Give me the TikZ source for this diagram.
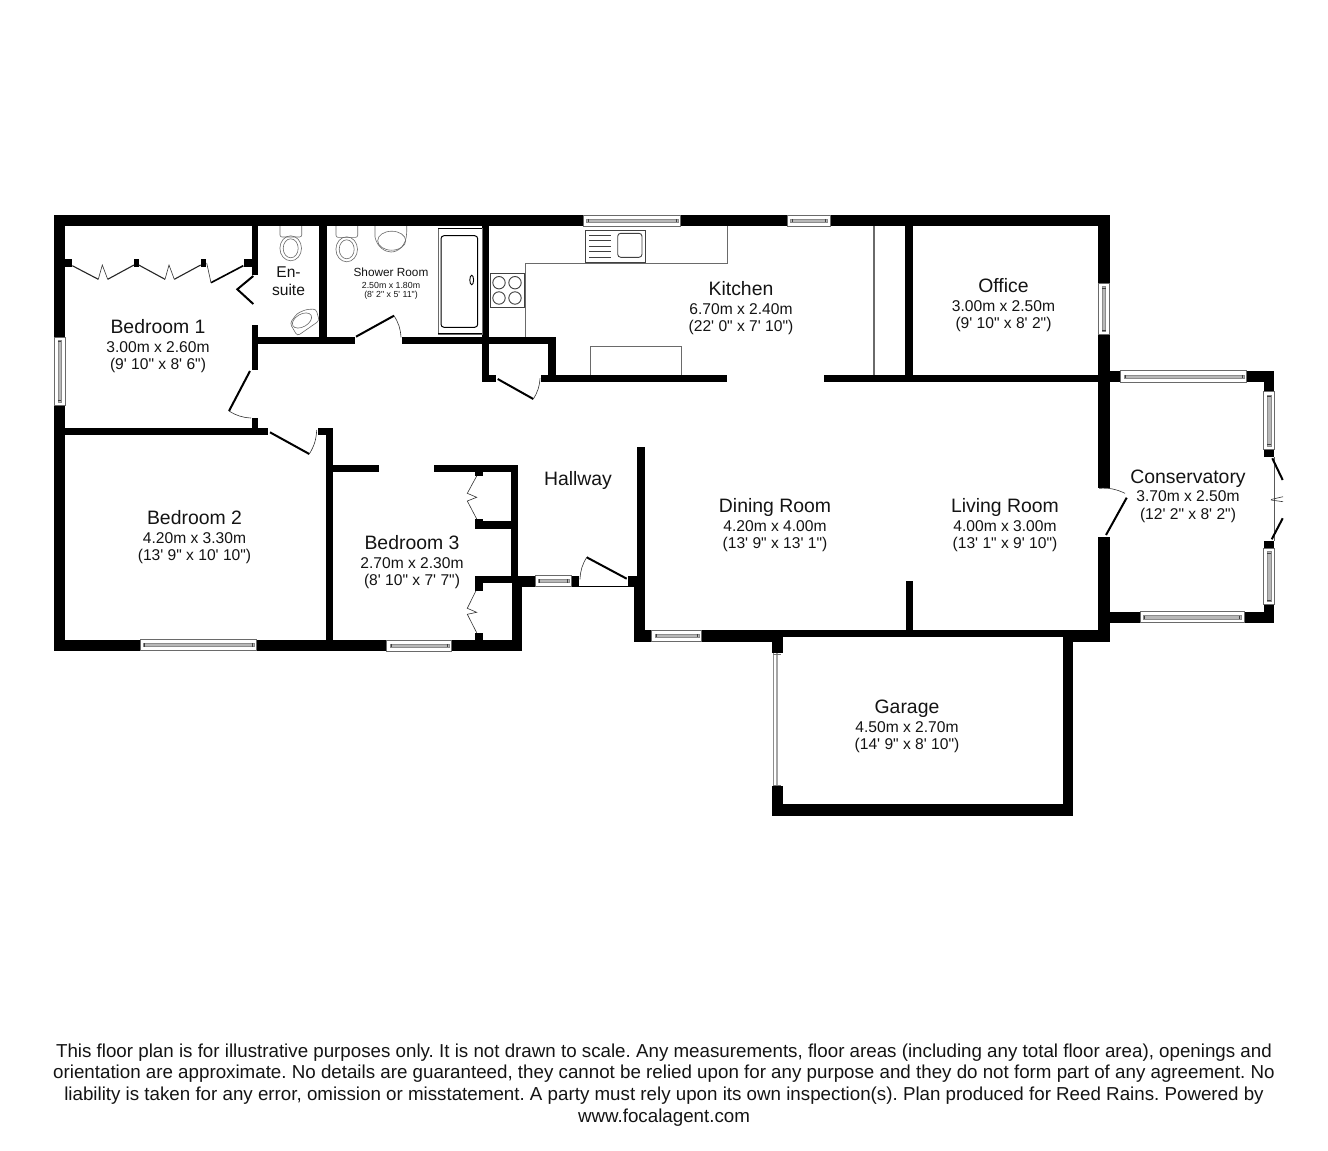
\documentclass[tikz,border=0pt]{standalone}
\usepackage{fontspec}
\newfontfamily\plainf{Liberation Sans}
\definecolor{wallc}{HTML}{000000}
\definecolor{fixc}{HTML}{6A6A6A}
\definecolor{txtc}{HTML}{141414}
\newcommand{\wallr}[4]{\fill[wallc] (#1,#2) rectangle (#3,#4);}
\newcommand{\hwin}[4]{%
  \draw[winframe] (#1,#2) rectangle (#3,#4);
  \draw[winbar] ({#1+3},{(#2+#4)/2-1.7}) rectangle ({#3-3},{(#2+#4)/2+1.7});
  \draw[wintick] ({#1+4.5},{(#2+#4)/2-1.7}) -- ({#1+4.5},{(#2+#4)/2+1.7});
  \draw[wintick] ({#3-4.5},{(#2+#4)/2-1.7}) -- ({#3-4.5},{(#2+#4)/2+1.7});}
\newcommand{\vwin}[4]{%
  \draw[winframe] (#1,#2) rectangle (#3,#4);
  \draw[winbar] ({(#1+#3)/2-1.7},{#2+3}) rectangle ({(#1+#3)/2+1.7},{#4-3});
  \draw[wintick] ({(#1+#3)/2-1.7},{#2+4.5}) -- ({(#1+#3)/2+1.7},{#2+4.5});
  \draw[wintick] ({(#1+#3)/2-1.7},{#4-4.5}) -- ({(#1+#3)/2+1.7},{#4-4.5});}
\newcommand{\roomlabel}[6]{%
  \node[namefont] (#1a) at (#2,#3+0.4) {#4};
  \node[dimfont] (#1b) at (#2,#3+19) {#5};
  \node[dimfont] (#1c) at (#2,#3+36.4) {#6};}
\tikzset{
  x=1pt,y=-1pt,
  winframe/.style={draw=fixc,line width=0.7pt,fill=white},
  winbar/.style={draw=black!45,line width=0.4pt,fill=black!28},
  wintick/.style={draw=black!75,line width=0.5pt},
  fixture/.style={draw=fixc,line width=1.1pt},
  fixthin/.style={draw=fixc,line width=0.6pt},
  fixdark/.style={draw=black!75,line width=0.9pt},
  doorleaf/.style={draw=black,line width=2pt},
  doorswing/.style={draw=black!80,line width=0.6pt},
  fold/.style={draw=black!85,line width=1.1pt,line join=miter},
  foldthin/.style={draw=black!80,line width=0.6pt},
  namefont/.style={anchor=base,inner sep=0pt,text=txtc,font=\plainf\fontsize{19.4}{22}\selectfont},
  dimfont/.style={anchor=base,inner sep=0pt,text=txtc,font=\plainf\fontsize{15.6}{18}\selectfont},
  tinyname/.style={anchor=base,inner sep=0pt,text=txtc,font=\plainf\fontsize{11.8}{14}\selectfont},
  tinydim/.style={anchor=base,inner sep=0pt,text=txtc,font=\plainf\fontsize{8.8}{10}\selectfont},
}
\begin{document}
\begin{tikzpicture}
\useasboundingbox (0,0) rectangle (1328,1151);
\fill[white] (0,0) rectangle (1328,1151);

% --- outer shell
\wallr{54}{215}{1110}{226}
\wallr{54}{215}{65}{651}
\wallr{54}{640}{522}{651}
\wallr{1098.3}{215}{1109.5}{488.3}
\wallr{1098.3}{536.7}{1109.5}{641.7}
% bedroom 1 partitions
\wallr{65}{428}{268}{435}
\wallr{252}{226}{258}{275}
\wallr{252}{325}{258}{370}
\wallr{252}{418}{258}{435}
\wallr{65}{259}{72}{267}
\wallr{134}{259}{139}{267}
\wallr{201}{259}{206}{267}
\wallr{244}{259}{252}{267}
% en-suite, shower
\wallr{319.3}{226}{326.7}{344}
\wallr{258}{337}{355}{344}
\wallr{402}{337}{556}{344}
\wallr{482}{226}{489}{382}
% cupboard by kitchen
\wallr{548}{337}{556}{382}
\wallr{482}{375}{496}{382}
\wallr{541}{375}{727}{382.3}
% kitchen / office
\wallr{905.3}{226}{912.7}{375}
\wallr{824.3}{375}{1110}{382.3}
% bedroom 2/3
\wallr{318}{428}{333}{435}
\wallr{326}{428}{333}{640}
\wallr{333}{465}{379}{472.3}
\wallr{434}{465}{518.3}{472.3}
\wallr{511}{465}{518.3}{583}
\wallr{475.3}{521}{511}{528.7}
\wallr{475.3}{472}{482.7}{476}
\wallr{475.3}{519.3}{482.7}{528}
\wallr{475.3}{576}{535}{583.3}
\wallr{475.3}{576}{482.7}{590.7}
\wallr{475.3}{632.7}{482.7}{640}
\wallr{511.7}{576}{521.7}{650.5}
% entrance
\wallr{518}{576}{535}{587}
\wallr{571.7}{576}{579.3}{587}
\wallr{628.3}{576}{645}{587}
\wallr{637.3}{447.3}{645}{641}
\wallr{634}{576}{645}{641}
\draw[draw=black,line width=0.9pt] (579.3,586.3) -- (628.3,586.3);
% dining / living bottom
\wallr{634}{630}{1110}{637.3}
\wallr{634}{637}{783.3}{641.7}
\wallr{1062.7}{637}{1110}{641.7}
\wallr{905.7}{581}{912.7}{630}
% garage
\wallr{772.3}{637}{783.3}{653.3}
\wallr{772.3}{785.7}{783.3}{815.7}
\wallr{772.3}{804.3}{1073.3}{815.7}
\wallr{1062.7}{637}{1073.3}{815.7}
% conservatory
\wallr{1109}{370.7}{1120.7}{382.3}
\wallr{1246.7}{370.7}{1274.3}{382.3}
\wallr{1263.7}{370.7}{1274.3}{391.7}
\wallr{1263.7}{449}{1274.3}{457}
\wallr{1263.7}{541}{1274.3}{548.3}
\wallr{1263.7}{604.3}{1274.3}{622.7}
\wallr{1109}{611.7}{1140}{622.7}
\wallr{1244}{611.7}{1274.3}{622.7}

% --- windows
\vwin{54}{337}{65}{405}
\hwin{583.3}{215}{680.7}{226}
\hwin{787.3}{215}{830}{226}
\vwin{1098.3}{283.3}{1109.5}{334.3}
\hwin{1120.7}{370.7}{1246.7}{382.3}
\vwin{1263.7}{391.7}{1274.3}{449}
\vwin{1263.7}{548.3}{1274.3}{604.3}
\hwin{1140}{611.7}{1244}{622.7}
\hwin{140}{639}{256.7}{650.7}
\hwin{386.7}{640}{451.7}{651}
\hwin{535}{575}{571.7}{586.7}
\hwin{651.7}{630}{701.7}{641}
% garage door: open side, thin rail
\fill[white] (772.3,653.3) rectangle (783.3,785.7);
\draw[draw=black!45,line width=0.6pt] (773,653.3) -- (773,785.7);
\fill[black!35] (775.7,653.3) rectangle (778.2,785.7);
\draw[draw=black!55,line width=0.5pt] (773,653.8) -- (780.5,653.8);
\draw[draw=black!55,line width=0.5pt] (773,785.2) -- (780.5,785.2);

% --- doors
\draw[doorleaf] (253.3,276) -- (237.3,289.3) -- (253.3,304);
\draw[doorleaf] (250,371) -- (229,411);
\draw[doorswing] (229,411) to[bend right=14] (251,418);
\draw[doorleaf] (270,432.3) -- (309.3,454);
\draw[doorswing] (309.3,454) to[bend right=14] (316.7,430);
\draw[doorleaf] (356,336.7) -- (394,315.7);
\draw[doorswing] (394,315.7) to[bend left=14] (401,337.3);
\draw[doorleaf] (497.7,379) -- (533.3,399);
\draw[doorswing] (533.3,399) to[bend right=14] (540,378.3);
\draw[doorleaf] (626.7,578.7) -- (586.7,557.3);
\draw[doorswing] (586.7,557.3) to[bend right=14] (580,579.3);
\draw[doorleaf] (1126.7,497.7) -- (1106,535);
\draw[doorswing] (1099,488.3) to[bend left=14] (1125,493.3);
% conservatory french door
\draw[draw=black!65,line width=0.9pt] (1274.2,457) -- (1274.2,541);
\draw[doorleaf] (1272.3,458.3) -- (1282.7,480);
\draw[doorleaf] (1271.7,539.3) -- (1282.7,518.3);
\draw[foldthin] (1271,499.5) -- (1283,496.7);
\draw[foldthin] (1271,500) -- (1283,501.7);

% --- folding wardrobe doors
\draw[fold] (72.3,265.7) -- (98.3,279.3);
\draw[foldthin] (98.3,279.3) -- (102.3,265) -- (107.7,279.3);
\draw[fold] (107.7,279.3) -- (134,265);
\draw[fold] (138.7,265) -- (165,279.3);
\draw[foldthin] (165,279.3) -- (169,265) -- (174.3,279.3);
\draw[fold] (174.3,279.3) -- (200.7,265);
\draw[foldthin] (206.7,263) -- (211,282.7);
\draw[doorleaf,line width=1.6pt] (211,282.7) -- (243.3,265.7);
\draw[foldthin] (476.7,476) -- (467.3,493.3) -- (476.7,497.3) -- (467.3,501) -- (476.7,519);
\draw[foldthin] (476,590.7) -- (467.3,608.3) -- (476.7,612.3) -- (467.3,614.3) -- (476.7,632.7);

% --- en-suite fixtures
\draw[fixthin,rounded corners=2pt] (280,226) -- (280,237) -- (301.7,237) -- (301.7,226);
\draw[fixthin] (290.7,248.3) ellipse [x radius=10.8,y radius=12.5];
\draw[fixthin] (290.7,248.3) ellipse [x radius=7.5,y radius=9.5];
\draw[fixthin,rounded corners=3pt] (290,323.3) -- (297,313.5) -- (306,309.5) -- (316,309) -- (319.3,320.7) -- (297.3,336) -- cycle;
\draw[fixthin,rotate around={30:(302,320.5)}] (302,320.5) ellipse [x radius=10.5,y radius=6.3];

% --- shower room fixtures
\draw[fixthin,rounded corners=2pt] (336,226) -- (336,237.3) -- (357.7,237.3) -- (357.7,226);
\draw[fixthin] (346.7,249.3) ellipse [x radius=10.8,y radius=12.5];
\draw[fixthin] (346.7,249.3) ellipse [x radius=7.5,y radius=9.5];
\draw[fixthin] (375,226) -- (375,237) .. controls (377,247) and (385,252) .. (391,252) .. controls (398,252) and (406.7,246) .. (406.7,232) -- (406.7,226);
\draw[fixthin] (391.7,240.7) ellipse [x radius=14,y radius=9.5];
\draw[fixture,line width=0.7pt] (438.3,228) rectangle (482,334);
\draw[draw=black,line width=1pt] (438.3,228.5) -- (482,228.5);
\draw[draw=black,line width=1pt] (438.3,333.5) -- (482,333.5);
\draw[draw=black,line width=1pt,rounded corners=3pt] (441,235.7) rectangle (477.7,327.3);
\draw[draw=black,line width=0.9pt] (471.7,280) ellipse [x radius=1.9,y radius=4.8];

% --- kitchen fixtures
\draw[fixture] (727.5,226) -- (727.5,263.3) -- (525.7,263.3) -- (525.7,337);
\draw[fixdark] (585.7,230.3) rectangle (645.7,262);
\foreach \ky in {235,240.7,246,251.7,257.3} \draw[fixdark] (589.3,\ky) -- (611.3,\ky);
\draw[fixdark,rounded corners=3pt] (617.7,233.3) rectangle (642,257.3);
\draw[fixdark] (490.3,273.3) rectangle (524,307.3);
\foreach \kx in {499,515} \foreach \ky in {282.7,298} \draw[fixdark] (\kx,\ky) circle [radius=6.2];
\draw[fixture] (590.7,375) -- (590.7,346.7) -- (681.7,346.7) -- (681.7,375);
\draw[fixture] (874,226) -- (874,375);

% --- labels
\roomlabel{bedone}{158}{333.4}{Bedroom 1}{3.00m x 2.60m}{(9' 10" x 8' 6")}
\roomlabel{bedtwo}{194.5}{524.4}{Bedroom 2}{4.20m x 3.30m}{(13' 9" x 10' 10")}
\roomlabel{bedthree}{412}{549.3}{Bedroom 3}{2.70m x 2.30m}{(8' 10" x 7' 7")}
\roomlabel{kitchen}{741}{295.4}{Kitchen}{6.70m x 2.40m}{(22' 0" x 7' 10")}
\roomlabel{office}{1003.5}{292.4}{Office}{3.00m x 2.50m}{(9' 10" x 8' 2")}
\roomlabel{dining}{775}{512.4}{Dining Room}{4.20m x 4.00m}{(13' 9" x 13' 1")}
\roomlabel{living}{1005}{512.4}{Living Room}{4.00m x 3.00m}{(13' 1" x 9' 10")}
\roomlabel{conserv}{1188}{482.9}{Conservatory}{3.70m x 2.50m}{(12' 2" x 8' 2")}
\roomlabel{garage}{907}{713.2}{Garage}{4.50m x 2.70m}{(14' 9" x 8' 10")}
\node[namefont] (hall) at (578,485) {Hallway};
\node[dimfont] (ensa) at (288.5,277.6) {En-};
\node[dimfont] (ensb) at (288.5,295.7) {suite};
\node[tinyname] (showa) at (391,276.7) {Shower Room};
\node[tinydim] (showb) at (391,288) {2.50m x 1.80m};
\node[tinydim] (showc) at (391,297.7) {(8' 2" x 5' 11")};

\node[anchor=north,inner sep=0pt,align=center,text=txtc,font=\plainf\fontsize{18.75}{21.7}\selectfont\frenchspacing] (disclaimer) at (664,1043.3) {This floor plan is for illustrative purposes only. It is not drawn to scale. Any measurements, floor areas (including any total floor area), openings and\\
orientation are approximate. No details are guaranteed, they cannot be relied upon for any purpose and they do not form part of any agreement. No\\
liability is taken for any error, omission or misstatement. A party must rely upon its own inspection(s). Plan produced for Reed Rains. Powered by\\
www.focalagent.com};
\end{tikzpicture}
\end{document}
